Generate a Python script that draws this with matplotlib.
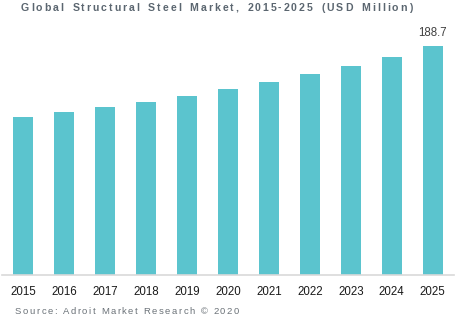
import matplotlib
matplotlib.use("Agg")
import matplotlib.pyplot as plt

years = ["2015", "2016", "2017", "2018", "2019", "2020",
         "2021", "2022", "2023", "2024", "2025"]
market_size = [130.2, 134.3, 138.4, 142.6, 147.5, 153.3,
               159.0, 165.6, 172.2, 179.6, 188.7]
title = "Global Structural Steel Market, 2015-2025 (USD Million)"
source = "Source: Adroit Market Research \u00a9 2020"

bar_color = "#5bc4ce"
W, H = 457, 325

plt.rcParams["font.family"] = ["Liberation Sans", "DejaVu Sans"]
fig = plt.figure(figsize=(W / 100, H / 100), dpi=100)
fig.patch.set_facecolor("white")

# axes in pixel coordinates: left, bottom, width, height
ax_l, ax_r, ax_top, ax_bot = 2.5, 453.5, 30, 275
ax = fig.add_axes([ax_l / W, (H - ax_bot) / H, (ax_r - ax_l) / W, (ax_bot - ax_top) / H])

x = range(len(years))
ax.bar(x, market_size, width=0.49, color=bar_color, zorder=2)
ax.set_xlim(-0.51, len(years) - 0.49)
ax.set_ylim(0, max(market_size) * (ax_bot - ax_top) / (ax_bot - 46))

ax.set_xticks(list(x))
ax.set_xticklabels(years, fontsize=8.3, color="#1a1a1a")
ax.tick_params(axis="x", length=0, pad=8)
ax.set_yticks([])
for side in ("left", "right", "top"):
    ax.spines[side].set_visible(False)
ax.spines["bottom"].set_color("#d9d9d9")
ax.spines["bottom"].set_linewidth(1.2)

# value label on the last bar
ax.annotate(f"{market_size[-1]:.1f}", (len(years) - 1, market_size[-1]),
            xytext=(0, 5), textcoords="offset points", ha="center", va="bottom",
            fontsize=8.3, color="#404040")

renderer = fig.canvas.get_renderer()


def tracked_text(s, x0, x1, y, word_extra=2.0, **kw):
    """Draw s letter by letter so that it spans pixels x0..x1."""
    pieces = []
    for ch in s:
        t = fig.text(0, 0, ch, **kw)
        w = t.get_window_extent(renderer).width
        if ch == " ":
            w = t.get_window_extent(renderer).width or kw.get("fontsize", 8) * 0.38
        pieces.append((t, w, ch))
    n_spaces = sum(1 for _, _, c in pieces if c == " ")
    natural = sum(w for _, w, _ in pieces) + n_spaces * word_extra
    track = (x1 - x0 - natural) / (len(pieces) - 1)
    pos = x0
    for t, w, ch in pieces:
        t.set_position((pos / W, 1 - y / H))
        t.set_ha("left")
        t.set_va("center")
        pos += w + track + (word_extra if ch == " " else 0)


tracked_text(title, 21, 412, 8, word_extra=2.0,
             fontsize=7.6, fontweight="bold", color="#5b6670")
tracked_text(source, 15, 239, 312, word_extra=0.0,
             fontsize=6.8, color="#6b7278")

fig.savefig("out.png", dpi=100)
